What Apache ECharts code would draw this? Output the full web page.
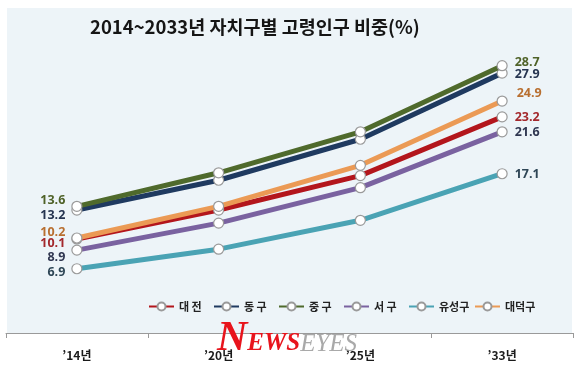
<!DOCTYPE html>
<html><head><meta charset="utf-8">
<script src="https://cdn.jsdelivr.net/npm/echarts@6/dist/echarts.min.js"></script>
<style>html,body{margin:0;padding:0;background:#fff}#c{width:580px;height:370px}</style>
</head><body><div id="c"></div>
<script>
const categories = ["\u201914년", "\u201920년", "\u201925년", "\u201933년"];
const seriesNames = ["대 전", "동 구", "중 구", "서 구", "유성구", "대덕구"];
const daejeon = [10.1, 13.2, 16.9, 23.2];
const donggu = [13.2, 16.4, 20.8, 27.9];
const junggu = [13.6, 17.2, 21.6, 28.7];
const seogu = [8.9, 11.8, 15.6, 21.6];
const yuseong = [6.9, 9.0, 12.1, 17.1];
const daedeok = [10.2, 13.6, 18.0, 24.9];
const lineColors = ["#b3161c", "#1f3a60", "#4f6a2c", "#7a62a0", "#4aa3b4", "#eb9a55"];
const labelColors = ["#a3282c", "#253450", "#4f6228", "#2f3650", "#2e4656", "#b86f30"];
const leftOffsets = [[0,5],[0,5],[0,-6],[0,7],[0,4],[0,-6]];
const rightOffsets = [[0,1],[0,1],[0,-3],[0,1],[0,1],[2,-8]];
const legendLefts = [143, 208, 273, 338, 403, 469];
const allData = [daejeon, donggu, junggu, seogu, yuseong, daedeok];

const chart = echarts.init(document.getElementById('c'));
const series = allData.map((vals, i) => ({
  name: seriesNames[i],
  type: 'line',
  data: vals.map((v, j) => {
    const item = {value: v};
    if (j === 0) item.label = {show: true, position: 'left', distance: 6, offset: leftOffsets[i]};
    else if (j === vals.length - 1) item.label = {show: true, position: 'right', distance: 7, offset: rightOffsets[i]};
    return item;
  }),
  lineStyle: {color: lineColors[i], width: 5},
  itemStyle: {color: '#ffffff', borderColor: '#9a9a9a', borderWidth: 1.2},
  symbol: 'circle',
  symbolSize: 10,
  label: {show: false, color: labelColors[i], fontSize: 12.5, fontWeight: 'bold', fontFamily: 'Open Sans'},
  z: 2 + i
}));

const legends = seriesNames.map((n, i) => ({
  data: [n],
  left: legendLefts[i], top: 296,
  itemWidth: 25, itemHeight: 10, itemGap: 4,
  textStyle: {fontFamily: 'Noto Sans CJK KR', fontWeight: 'bold', fontSize: 11, color: '#222'}
}));

chart.setOption({
  animation: false,
  backgroundColor: '#ffffff',
  color: lineColors,
  title: {
    text: '2014~2033년 자치구별 고령인구 비중(%)',
    left: 85, top: 13,
    textStyle: {fontFamily: 'Noto Sans CJK KR', fontWeight: 'bold', fontSize: 18.5, color: '#151515'}
  },
  graphic: [
    {type: 'rect', z: -10, silent: true, shape: {x: 7, y: 8, width: 565, height: 325}, style: {fill: '#edf4f8'}},
    {type: 'text', z: 100, left: 217, top: 318, silent: true,
     style: {
       text: '{a|N}{b|EWS}{c|EYES}',
       rich: {
         a: {fontFamily: 'Liberation Serif', fontStyle: 'italic', fontWeight: 'bold', fontSize: 42, fill: '#e8141c'},
         b: {fontFamily: 'Liberation Serif', fontStyle: 'italic', fontWeight: 'bold', fontSize: 25, fill: '#e8141c', padding: [10,0,0,0]},
         c: {fontFamily: 'Liberation Serif', fontStyle: 'italic', fontSize: 25, fill: '#9a9a9a', padding: [10,0,0,0], opacity: 0.85}
       }
     }}
  ],
  legend: legends,
  grid: {left: 6, right: 7, top: 7, bottom: 37, containLabel: false},
  xAxis: {
    type: 'category', data: categories, boundaryGap: true,
    axisLine: {lineStyle: {color: '#9a9a9a', width: 1}},
    axisTick: {show: true, length: 5, lineStyle: {color: '#9a9a9a'}},
    axisLabel: {margin: 16, fontFamily: 'Noto Sans CJK KR', fontWeight: 'bold', fontSize: 12, color: '#1a1a1a'}
  },
  yAxis: {type: 'value', min: 0, max: 35, show: false, splitLine: {show: false}},
  series: series
});
</script></body></html>
